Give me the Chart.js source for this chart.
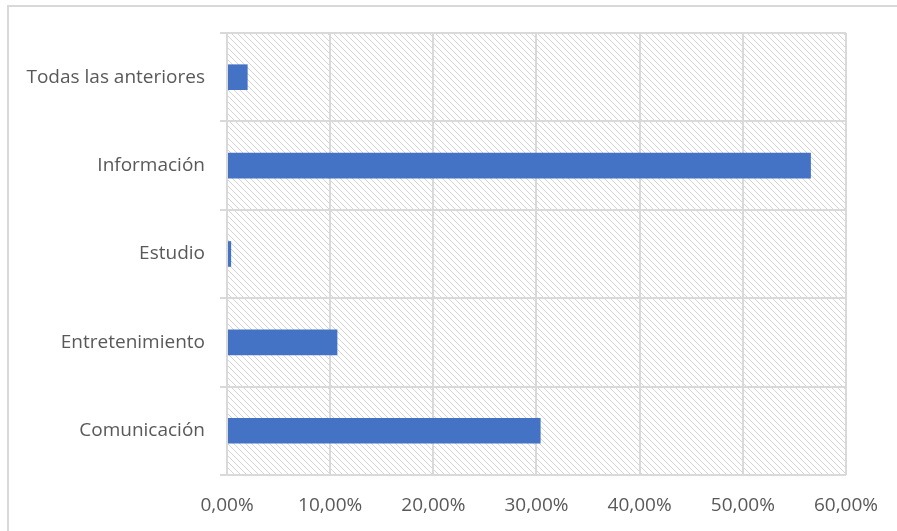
<!DOCTYPE html>
<html>
<head>
<meta charset="utf-8">
<script src="https://cdn.jsdelivr.net/npm/chart.js@4"></script>
<style>
  html, body { margin: 0; padding: 0; background: #fff; }
  #wrap { width: 897px; height: 531px; }
</style>
</head>
<body>
<div id="wrap"><canvas id="chart" width="897" height="531"></canvas></div>
<script>
const categories = ['Todas las anteriores', 'Información', 'Estudio', 'Entretenimiento', 'Comunicación'];
const values = [2.0, 56.6, 0.4, 10.7, 30.4];
const xTicks = [0, 10, 20, 30, 40, 50, 60];

// diagonal hatch used as plot background
function makeHatch() {
  const s = 6;
  const c = document.createElement('canvas');
  c.width = s; c.height = s;
  const g = c.getContext('2d');
  g.strokeStyle = '#d4d4d4';
  g.lineWidth = 1;
  for (let i = -1; i <= 1; i++) {
    g.beginPath();
    g.moveTo(i * s, 0);
    g.lineTo(i * s + s, s);
    g.stroke();
  }
  return g.createPattern(c, 'repeat');
}

const background = {
  id: 'background',
  beforeDraw(chart) {
    const { ctx, chartArea: a } = chart;
    ctx.save();
    ctx.fillStyle = makeHatch();
    ctx.fillRect(a.left, a.top, a.right - a.left, a.bottom - a.top);
    // outer frame
    ctx.strokeStyle = '#d9d9d9';
    ctx.lineWidth = 2;
    ctx.beginPath();
    ctx.moveTo(8, 531);
    ctx.lineTo(8, 6);
    ctx.lineTo(897, 6);
    ctx.stroke();
    ctx.restore();
  }
};

const ctx = document.getElementById('chart').getContext('2d');
new Chart(ctx, {
  type: 'bar',
  data: {
    labels: categories,
    datasets: [{
      data: values,
      backgroundColor: '#4472c4',
      categoryPercentage: 1,
      barPercentage: 0.29
    }]
  },
  options: {
    indexAxis: 'y',
    responsive: false,
    animation: false,
    layout: { padding: { left: 8, top: 33, right: 51, bottom: 6 } },
    plugins: { legend: { display: false }, tooltip: { enabled: false } },
    scales: {
      x: {
        min: 0,
        max: 60,
        afterBuildTicks: scale => { scale.ticks = xTicks.map(v => ({ value: v })); },
        afterFit: scale => { scale.height = 50; },
        grid: { color: '#d9d9d9', lineWidth: 2, drawTicks: false },
        border: { display: false },
        ticks: {
          color: '#595959',
          font: { family: 'Open Sans', size: 19 },
          padding: 19,
          callback: v => v.toFixed(2).replace('.', ',') + '%'
        }
      },
      y: {
        afterFit: scale => { scale.width = 219; },
        grid: { color: '#d9d9d9', lineWidth: 2, offset: true, tickLength: 7 },
        border: { color: '#d9d9d9', width: 2 },
        ticks: {
          color: '#595959',
          font: { family: 'Open Sans', size: 19 },
          padding: 15
        }
      }
    }
  },
  plugins: [background]
});
</script>
</body>
</html>
